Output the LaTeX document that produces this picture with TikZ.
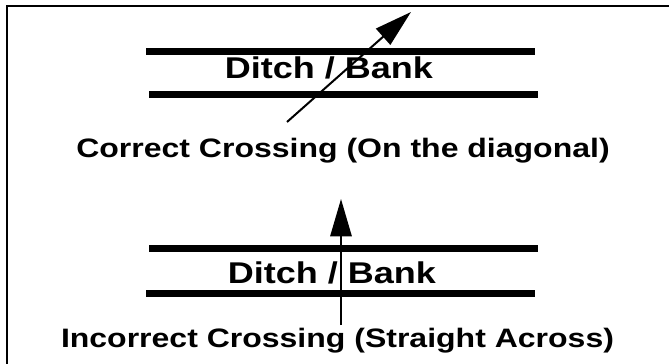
\documentclass[tikz,border=0pt]{standalone}
\usepackage{fontspec}
\setmainfont{Liberation Sans}[FakeStretch=1.2]
\usetikzlibrary{arrows.meta}
\begin{document}
\begin{tikzpicture}[>={Triangle[length=28pt,width=16pt]},x=0.75pt,y=-0.75pt,
        bankline/.style={line width=5.25pt},
        ditchlabel/.style={font=\bfseries\fontsize{22.5}{26}\selectfont,anchor=base,inner sep=0pt},
        caplabel/.style={font=\bfseries\fontsize{20}{24}\selectfont,anchor=base,inner sep=0pt}]
        \useasboundingbox (0,0) rectangle (669,364);
        \draw[line width=2pt] (675,6) -| (7,370);
        % correct crossing
        \begin{scope}
            \draw[bankline] (146,51)--(535,51);
            \draw[bankline] (149,94.5)--(538,94.5);
            \node[ditchlabel] (ditchA) at (329,79) {Ditch / Bank};
            \node[caplabel] (correct) at (343,157) {Correct Crossing (On the diagonal)};
            \coordinate (diagstart) at (287,122);
            \coordinate (diagend) at (411,12);
            \draw[->,line width=1.5pt] (diagstart)--(diagend);
        \end{scope}
        % incorrect crossing
        \begin{scope}
            \draw[bankline] (149,248.5)--(538,248.5);
            \draw[bankline] (146,293.5)--(535,293.5);
            \node[ditchlabel] (ditchB) at (332,283) {Ditch / Bank};
            \node[caplabel] (incorrect) at (337.5,347) {Incorrect Crossing (Straight Across)};
            \coordinate (straightstart) at (341,325);
            \coordinate (straightend) at (341,199);
            \draw[->,line width=1.5pt] (straightstart)--(straightend);
        \end{scope}
    \end{tikzpicture}
\end{document}
